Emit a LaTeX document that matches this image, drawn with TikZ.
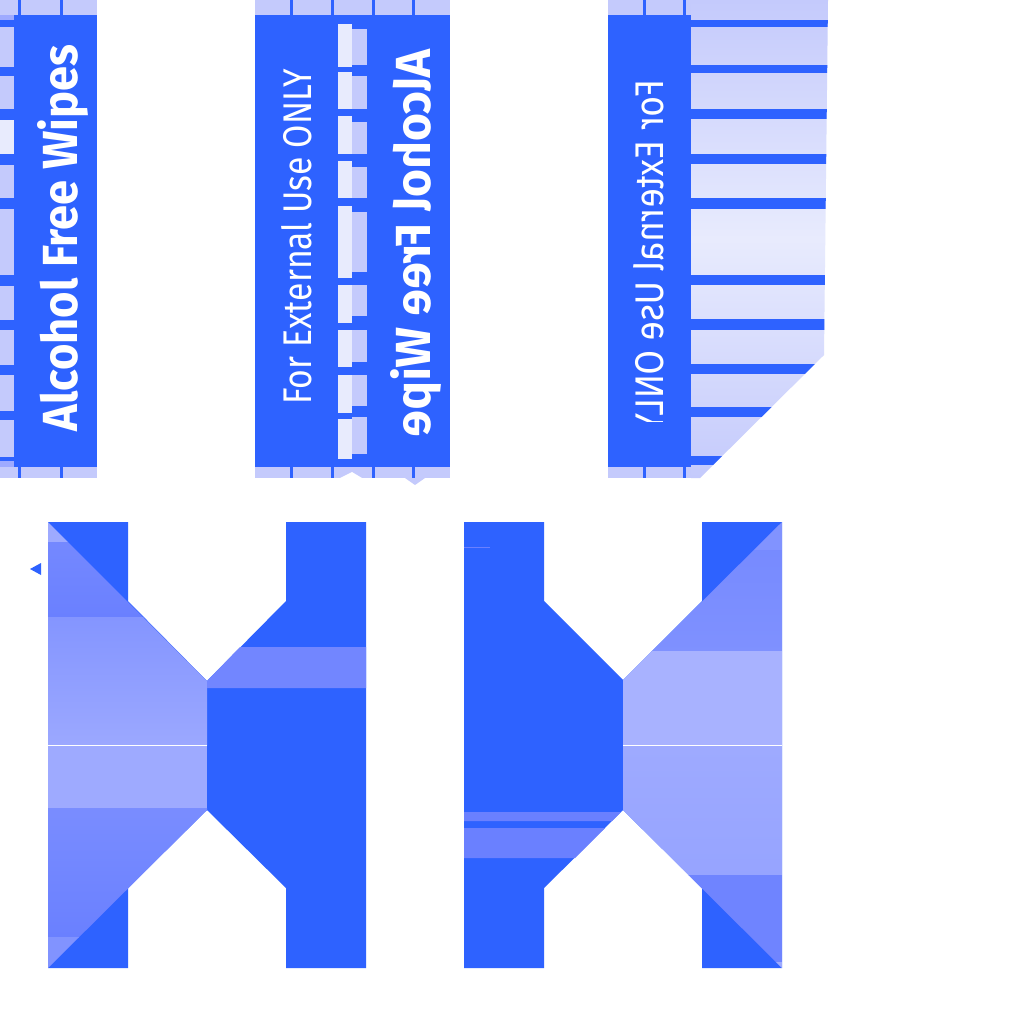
\documentclass[tikz,border=0pt]{standalone}
\usepackage{graphicx}
\usepackage{fontspec}
\setmainfont{Fira Sans}
\definecolor{wblue}{HTML}{2E62FF}
\definecolor{wlav}{HTML}{C4CAFC}
\definecolor{wpale}{HTML}{E8EBFD}
\definecolor{wmid}{HTML}{6A80FF}
\definecolor{wsoft}{HTML}{9EAAFF}
\begin{document}
\begin{tikzpicture}[x=1pt,y=-1pt,tag/.style={inner sep=0pt,rotate=90,anchor=base,text=white}]
\useasboundingbox(0,0)rectangle(1024,1024);
\fill[white](0,0)rectangle(1024,1024);
\fill[wlav](0,0)rectangle(97,478);
\fill[wblue](14,15)rectangle(97,467);
\fill[wblue](0,20)rectangle(14,462);
\fill[wsoft](0,15)rectangle(14,20);
\fill[wsoft](0,461)rectangle(14,467);
\foreach\a/\b in{27/67,76/109,120/154,165/198,209/275,286/320,330/365,375/411,420/457}\fill[wlav](0,\a)rectangle(14,\b);
\fill[wpale](0,120)rectangle(14,154);
\foreach\a in{18,60}{\fill[wblue](\a,0)rectangle(\a+3,15);\fill[wblue](\a,467)rectangle(\a+3,478);}
\node[tag,font=\bfseries](title)at(77,238){\resizebox{387pt}{40pt}{Alcohol Free Wipes}};
\fill[wlav](255,0)rectangle(450,478);
\fill[wblue](255,15)rectangle(450,467);
\foreach\a/\b in{24/67,72/109,116/154,161/198,206/278,285/323,330/367,375/413,419/459}\fill[wpale](338,\a)rectangle(352,\b);
\foreach\a/\b in{29/65,76/109,122/154,167/198,212/272,285/316,330/362,375/406,417/454}\fill[wlav](352,\a)rectangle(367,\b);
\foreach\a in{290,331,372,412}{\fill[wblue](\a,0)rectangle(\a+3,15);\fill[wblue](\a,467)rectangle(\a+3,478);}
\fill[white](340,478)--(352,472)--(362,478)--cycle;
\fill[wlav](405,478)--(425,478)--(415,485)--cycle;
\node[tag](usage)at(311,237){\resizebox{335pt}{30pt}{For External Use ONLY}};
\node[tag,font=\bfseries](titleback)at(430,243){\resizebox{387pt}{40pt}{\reflectbox{Alcohol Free Wipe}}};
\fill[wlav](608,0)rectangle(691,478);
\fill[wblue](608,15)rectangle(691,467);
\foreach\a in{643,683}{\fill[wblue](\a,0)rectangle(\a+3,15);\fill[wblue](\a,467)rectangle(\a+3,478);}
\begin{scope}
\clip(691,0)--(828,0)--(824,355)--(700,478)--(691,478)--cycle;
\shade[top color=wlav,bottom color=wlav,middle color=wpale](691,0)rectangle(830,478);
\foreach\a/\b in{20/27,65/73,109/119,154/164,198/209,275/285,319/330,364/374,407/417,456/465}\fill[wblue](691,\a)rectangle(830,\b);
\end{scope}
\begin{scope}
\clip(600,15)rectangle(700,421);
\node[tag](usageback)at(663,256.5){\resizebox{353pt}{30pt}{\reflectbox{For External Use ONLY}}};
\end{scope}
\fill[wblue](30,569)--(41,563)--(41,575)--cycle;
\fill[wblue](48,522)--(128,522)--(128,601)--(207,681)--(286,601)--(286,522)--(366,522)--(366,968)--(286,968)--(286,888)--(207,810)--(128,888)--(128,968)--(48,968)--cycle;
\begin{scope}
\clip(48,522)--(207,681)--(207,810)--(48,968)--cycle;
\fill[wsoft](48,522)rectangle(207,542);
\shade[top color=wmid!80!wsoft,bottom color=wmid](48,542)rectangle(207,617);
\shade[top color=wmid!50!wsoft,bottom color=wsoft!95!wmid](48,617)rectangle(207,745);
\fill[wsoft](48,746)rectangle(207,808);
\shade[top color=wmid!70!wsoft,bottom color=wmid](48,808)rectangle(207,937);
\fill[wmid!55!wsoft](48,937)rectangle(207,968);
\end{scope}
\fill[wmid!85!wsoft](240,647)--(366,647)--(366,688)--(207,688)--(207,681)--cycle;
\draw[white,line width=1pt](48,745.5)--(207,745.5);
\fill[wblue](464,522)--(544,522)--(544,601)--(623,680)--(702,601)--(702,522)--(782,522)--(782,968)--(702,968)--(702,888)--(623,810)--(544,888)--(544,968)--(464,968)--cycle;
\begin{scope}
\clip(782,522)--(623,680)--(623,810)--(782,968)--cycle;
\fill[wmid!55!wsoft](623,522)rectangle(782,550);
\shade[top color=wmid!75!wsoft,bottom color=wmid!60!wsoft](623,550)rectangle(782,651);
\fill[wsoft!90!white](623,651)rectangle(782,745);
\shade[top color=wsoft,bottom color=wsoft!85!wmid](623,746)rectangle(782,875);
\fill[wmid!90!wsoft](623,875)rectangle(782,962);
\fill[wsoft](623,962)rectangle(782,968);
\end{scope}
\draw[white,line width=1pt](623,745.5)--(782,745.5);
\fill[wmid](464,546.5)rectangle(490,547.5);
\fill[wmid](464,812)--(621,812)--(612,821)--(464,821)--cycle;
\fill[wmid](464,828)--(605,828)--(575,858)--(464,858)--cycle;
\end{tikzpicture}
\end{document}
